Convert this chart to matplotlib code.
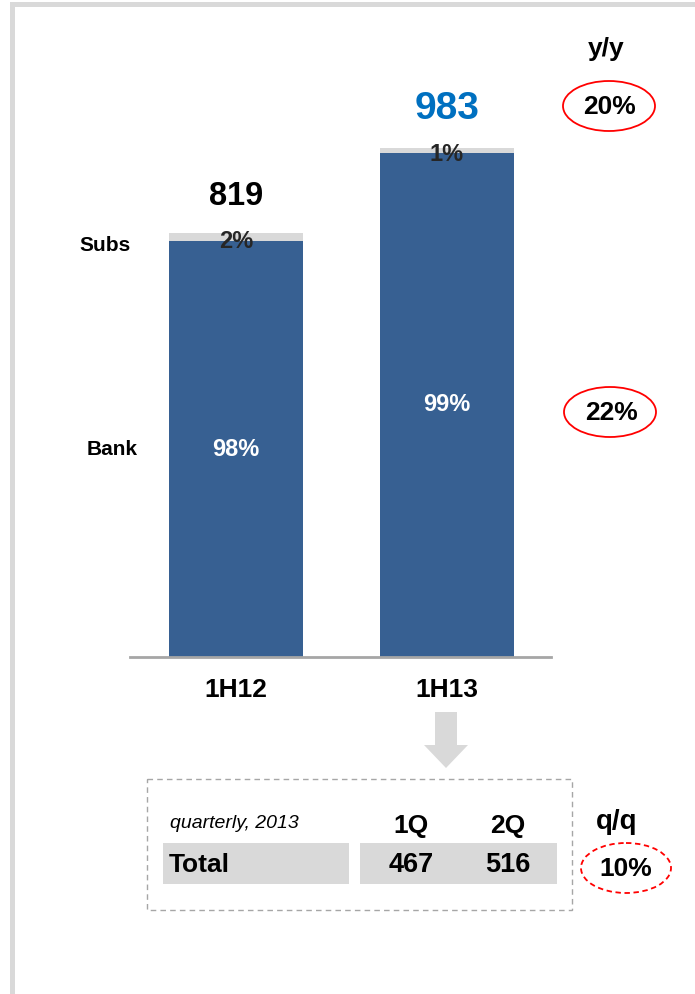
import numpy as np
import matplotlib.pyplot as plt
from matplotlib.patches import Rectangle, Ellipse, FancyArrow

plt.rcParams['font.family'] = ['Liberation Sans', 'DejaVu Sans']

# ---- data ----
periods = ['1H12', '1H13']
bank = [803, 973]
subs = [16, 10]
totals = [819, 983]
bank_share = ['98%', '99%']
subs_share = ['2%', '1%']
yy_labels = ['20%', '22%']          # total, bank
quarters = ['1Q', '2Q']
quarter_totals = [467, 516]
qq_label = '10%'

BLUE = '#376092'
GREY = '#d9d9d9'

W, H = 695, 994
fig = plt.figure(figsize=(W / 100, H / 100), dpi=100)

# overlay in pixel coordinates for frame, table, arrows
ov = fig.add_axes([0, 0, 1, 1])
ov.set_xlim(0, W)
ov.set_ylim(H, 0)
ov.axis('off')

# page frame (left + top grey bars)
ov.add_patch(Rectangle((10, 2), W - 10, 5, color=GREY, lw=0))
ov.add_patch(Rectangle((10, 2), 5, H, color=GREY, lw=0))

# ---- bar chart ----
px_left, px_right, px_base = 130, 551, 657
scale = 0.518  # px per unit
ymax = 1100
ax = fig.add_axes([px_left / W, (H - px_base) / H,
                   (px_right - px_left) / W, ymax * scale / H])
ax.set_xlim(-0.5036, 1.496)
ax.set_ylim(0, ymax)
ax.patch.set_visible(False)
for s in ['top', 'right', 'left']:
    ax.spines[s].set_visible(False)
ax.spines['bottom'].set_color('#a6a6a6')
ax.spines['bottom'].set_linewidth(2)
ax.set_xticks([])
ax.set_yticks([])

x = np.arange(len(periods))
ax.bar(x, bank, width=0.637, color=BLUE, zorder=2)
ax.bar(x, subs, bottom=bank, width=0.637, color=GREY, zorder=2)

for i in range(len(periods)):
    ax.text(x[i], bank[i] / 2, bank_share[i], ha='center', va='center',
            color='white', fontsize=17, fontweight='bold', zorder=3)
    ax.annotate(subs_share[i], (x[i], totals[i]), xytext=(0, -5 if i else -6),
                textcoords='offset points', ha='center', va='center',
                color='#262626', fontsize=17, fontweight='bold', zorder=3)
    ax.annotate(periods[i], (x[i], 0), xytext=(0, -24),
                textcoords='offset points', ha='center', va='center',
                fontsize=19, fontweight='bold', annotation_clip=False)

ax.annotate(str(totals[0]), (x[0], totals[0]), xytext=(0, 26),
            textcoords='offset points', ha='center', va='center',
            fontsize=23.5, fontweight='bold', color='black')
ax.annotate(str(totals[1]), (x[1], totals[1]), xytext=(0, 28),
            textcoords='offset points', ha='center', va='center',
            fontsize=28, fontweight='bold', color='#0070c0')

# series names on the left
ax.text(-0.62, totals[0] - 24, 'Subs', ha='center', va='center',
        fontsize=15, fontweight='bold', clip_on=False)
ax.text(-0.59, bank[0] / 2, 'Bank', ha='center', va='center',
        fontsize=15, fontweight='bold', clip_on=False)

# ---- y/y changes ----
ov.text(606, 49, 'y/y', ha='center', va='center', fontsize=19, fontweight='bold')
for (cx, cy), lab in zip([(609, 106), (610, 412)], yy_labels):
    ov.add_patch(Ellipse((cx, cy), 92, 50, fill=False, edgecolor='#ff0000', lw=1.3))
    ov.text(cx + 1, cy + 1, lab, ha='center', va='center', fontsize=19, fontweight='bold')

# ---- arrow down to quarterly table ----
ov.add_patch(FancyArrow(446, 712, 0, 56, width=22, head_width=44, head_length=23,
                        length_includes_head=True, color=GREY, lw=0))

# ---- quarterly table ----
ov.add_patch(Rectangle((147, 779), 425, 131, fill=False, edgecolor='#a6a6a6',
                       lw=1, ls=(0, (4, 3))))
ov.add_patch(Rectangle((163, 843), 186, 41, color=GREY, lw=0))
ov.add_patch(Rectangle((360, 843), 197, 41, color=GREY, lw=0))

ov.text(170, 824, 'quarterly, 2013', ha='left', va='center', fontsize=14,
        style='italic')
ov.text(169, 865, 'Total', ha='left', va='center', fontsize=19, fontweight='bold')
for qx, q, v in zip([411, 508], quarters, quarter_totals):
    ov.text(qx, 826, q, ha='center', va='center', fontsize=19, fontweight='bold')
    ov.text(qx, 865, str(v), ha='center', va='center', fontsize=19.5, fontweight='bold')

ov.text(617, 822, 'q/q', ha='center', va='center', fontsize=20, fontweight='bold')
ov.add_patch(Ellipse((626, 868), 90, 50, fill=False, edgecolor='#ff0000', lw=1.3,
                     ls=(0, (3, 2))))
ov.text(626, 869, qq_label, ha='center', va='center', fontsize=19, fontweight='bold')

fig.savefig('out.png', dpi=100)
